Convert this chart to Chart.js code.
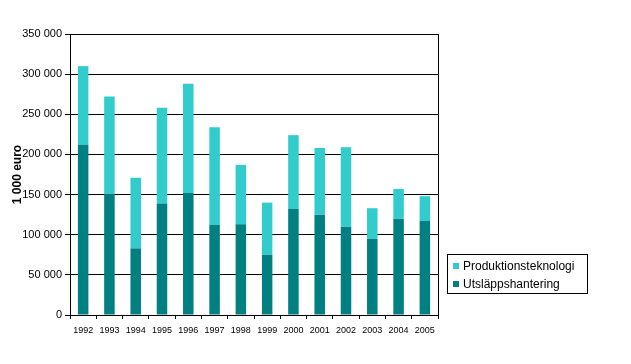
<!DOCTYPE html>
<html><head><meta charset="utf-8">
<script src="https://cdn.jsdelivr.net/npm/chart.js@4/dist/chart.umd.min.js"></script>
<style>
html,body{margin:0;padding:0;background:#fff;}
#wrap{position:relative;width:631px;height:364px;}
#legend{position:absolute;left:447px;top:254px;width:141px;height:40px;border:1px solid #000;box-sizing:border-box;font-family:"Liberation Sans",Arial,sans-serif;font-size:12px;color:#000;padding-top:4px;}
#legend div{height:18px;line-height:14px;padding-left:5px;white-space:nowrap;}
#legend span.sw{display:inline-block;width:6px;height:6px;margin-right:4px;vertical-align:1px;}
</style></head><body>
<div id="wrap"><canvas id="c" width="631" height="364"></canvas>
<div id="legend"></div></div>
<script>
const years = ['1992','1993','1994','1995','1996','1997','1998','1999','2000','2001','2002','2003','2004','2005'];
const utslapp = [212000,150000,83000,139000,152000,112000,113000,75000,132000,125000,110000,95000,120000,117000];
const produktion = [98000,122000,88000,119000,136000,122000,74000,65000,92000,83000,99000,38000,37000,31000];
const seriesNames = ['Produktionsteknologi','Utsläppshantering'];
const colors = ['#33CCCC','#008080'];
const yTicks = [0,50000,100000,150000,200000,250000,300000,350000];

const fmt = v => String(v).replace(/\B(?=(\d{3})+(?!\d))/g,' ');

const boxPlugin = {id:'box', afterDraw(chart){
  const a = chart.chartArea, ctx = chart.ctx;
  ctx.save(); ctx.strokeStyle='#000'; ctx.lineWidth=1;
  ctx.beginPath(); ctx.moveTo(Math.round(a.right)+0.5, a.top); ctx.lineTo(Math.round(a.right)+0.5, a.bottom); ctx.stroke();
  ctx.restore();
}};

new Chart(document.getElementById('c'), {
  type:'bar',
  data:{labels:years, datasets:[
    {label:seriesNames[1], data:utslapp, backgroundColor:colors[1], barPercentage:0.8, categoryPercentage:0.5},
    {label:seriesNames[0], data:produktion, backgroundColor:colors[0], barPercentage:0.8, categoryPercentage:0.5}
  ]},
  options:{
    responsive:false, animation:false,
    layout:{padding:{left:0,right:193,top:34,bottom:27}},
    plugins:{legend:{display:false}, tooltip:{enabled:false}},
    scales:{
      x:{stacked:true, offset:true,
        grid:{display:true, drawOnChartArea:false, offset:true, color:'#000', tickLength:4, lineWidth:1},
        border:{display:true,color:'#000',width:1},
        ticks:{font:{family:'"Liberation Sans", Arial, sans-serif', size:9}, color:'#000', maxRotation:0, autoSkip:false, padding:6},
        afterFit(s){s.height=22;}
      },
      y:{stacked:true, min:0, max:350000,
        afterBuildTicks(s){s.ticks = yTicks.map(v=>({value:v}));},
        grid:{color:'#000', lineWidth:1, tickLength:5, drawTicks:true},
        border:{display:true,color:'#000',width:1},
        ticks:{font:{family:'"Liberation Sans", Arial, sans-serif', size:11}, color:'#000', padding:3, callback:v=>fmt(v)},
        title:{display:true, text:'1 000 euro', font:{family:'"Liberation Sans", Arial, sans-serif', size:12, weight:'bold'}, color:'#000', padding:{top:10,bottom:0}},
        afterFit(s){s.width=70;}
      }
    }
  },
  plugins:[boxPlugin]
});

const lg = document.getElementById('legend');
seriesNames.forEach((n,i)=>{
  const d=document.createElement('div');
  d.innerHTML='<span class="sw" style="background:'+colors[i]+'"></span>'+n;
  lg.appendChild(d);
});
</script></body></html>
